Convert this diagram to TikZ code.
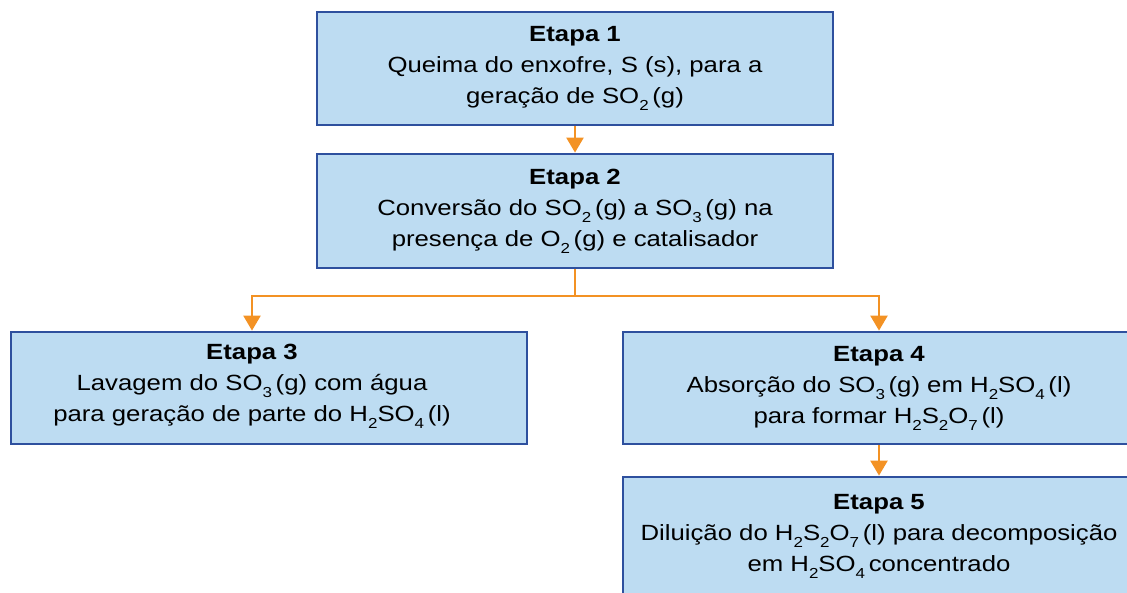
\documentclass[tikz,border=0pt]{standalone}
\usepackage{fontspec}
\setmainfont[FakeStretch=1.17]{Liberation Sans}
\usetikzlibrary{arrows.meta}
\definecolor{boxfill}{HTML}{BDDCF2}
\definecolor{boxline}{HTML}{2E509E}
\definecolor{orng}{HTML}{F39224}
\newcommand\sbx[1]{\raisebox{-0.6ex}{\fontsize{14.5}{14.5}\selectfont #1}}
\begin{document}
\begin{tikzpicture}[x=1pt,y=-1pt,
  box/.style={draw=boxline, line width=2.8pt, fill=boxfill, inner sep=0pt, align=center,
    font=\fontsize{22}{31}\selectfont},
  txt/.style={inner sep=0pt, align=center, font=\fontsize{22}{31}\selectfont},
  conn/.style={draw=orng, line width=2.4pt},
  arr/.style={conn, -{Triangle[length=15pt,width=17pt]}}]
\useasboundingbox (0,0) rectangle (1127,592);
\node[box, minimum width=516pt, minimum height=113pt] (e1) at (575,68.5)
  {\textbf{Etapa 1}\\Queima do enxofre, S (s), para a\\geração de SO\sbx{2}\,(g)};
\node[box, minimum width=516pt, minimum height=114pt] (e2) at (575,211)
  {\textbf{Etapa 2}\\Conversão do SO\sbx{2}\,(g) a SO\sbx{3}\,(g) na\\presença de O\sbx{2}\,(g) e catalisador};
\node[box, minimum width=516pt, minimum height=112pt] (e3) at (269,388) {};
\node[txt] (e3t) at (252,386)
  {\textbf{Etapa 3}\\Lavagem do SO\sbx{3}\,(g) com água\\para geração de parte do H\sbx{2}SO\sbx{4}\,(l)};
\node[box, minimum width=512pt, minimum height=112pt] (e4) at (879,388)
  {\textbf{Etapa 4}\\Absorção do SO\sbx{3}\,(g) em H\sbx{2}SO\sbx{4}\,(l)\\para formar H\sbx{2}S\sbx{2}O\sbx{7}\,(l)};
\node[box, minimum width=512pt, minimum height=118pt] (e5) at (879,536)
  {\textbf{Etapa 5}\\Diluição do H\sbx{2}S\sbx{2}O\sbx{7}\,(l) para decomposição\\em H\sbx{2}SO\sbx{4}\,concentrado};
\coordinate (j) at (575,296);
\draw[arr] (e1) -- (e2);
\draw[conn] (e2.south) -- (j);
\draw[arr] (j) -| (e3t |- e3.north);
\draw[arr] (j) -| (e4.north);
\draw[arr] (e4) -- (e5);
\end{tikzpicture}
\end{document}
